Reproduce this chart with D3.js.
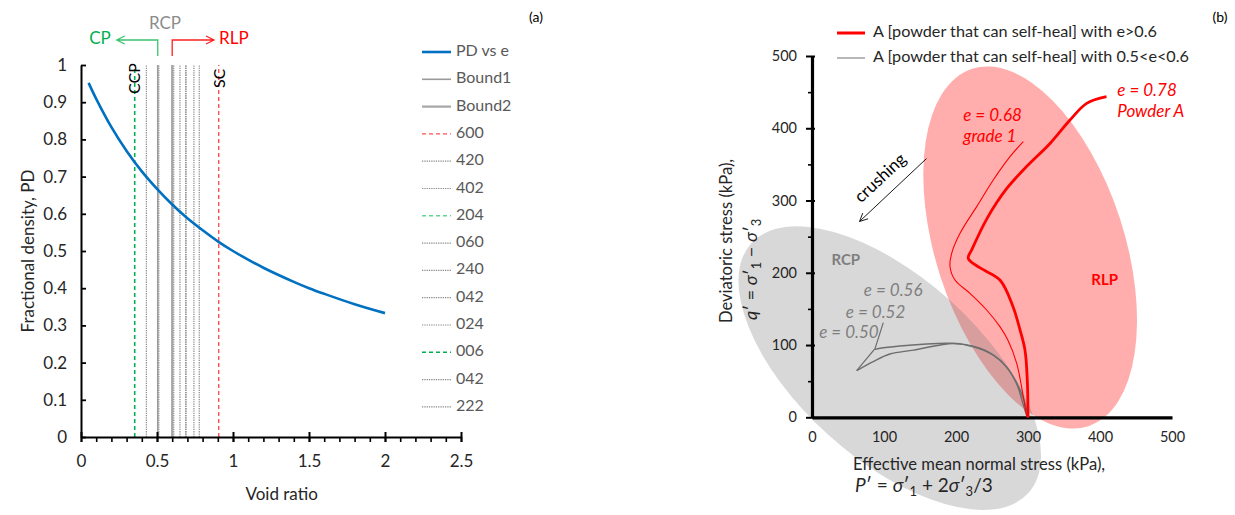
<!DOCTYPE html>
<html><head><meta charset="utf-8">
<script src="https://cdn.jsdelivr.net/npm/d3@7"></script>
<style>
body{margin:0;background:#fff}
svg text{font-family:Lato,"Open Sans",sans-serif}
</style>
</head><body>
<svg id="chart" width="1235" height="515"></svg>
<script>
// ================= Panel (a) data =================
const voidRatio = [0.05,0.1,0.2,0.3,0.4,0.5,0.6,0.7,0.8,0.9,1.0,1.2,1.4,1.5,1.6,1.8,2.0];
const fractionalDensity = [0.952,0.909,0.833,0.769,0.714,0.667,0.625,0.588,0.556,0.526,0.5,0.455,0.417,0.4,0.385,0.357,0.333];
const boundNames = ["Bound1","Bound2"];
const boundValues = [0.505,0.60];
const packingNames = ["600","420","402","204","060","240","042","024","006","042","222"];
const packingValues = [0.906,0.43,0.512,0.353,0.61,0.651,0.69,0.743,0.353,0.69,0.778];
const xTicksA = [0,0.5,1,1.5,2,2.5];
const xTickLabelsA = ["0","0.5","1","1.5","2","2.5"];
const yTicksA = [0,0.1,0.2,0.3,0.4,0.5,0.6,0.7,0.8,0.9,1];
const yTickLabelsA = ["0","0.1","0.2","0.3","0.4","0.5","0.6","0.7","0.8","0.9","1"];

// ================= Panel (b) data =================
const powderA_p = [300,299,295.8,288.9,279.2,261,233,217,222,243,270,298,330.6,358,381.5,409];
const powderA_q = [0,51.6,93,121,153,190,207,220,232,275,316,347,379,411,434.5,443.7];
const grade1_p = [300,298.2,293.5,284.3,272,261,242.6,219.4,198.6,191.7,194,205.6,228.7,251.8,275,293.5];
const grade1_q = [0,3.2,28.5,74.7,107,125.4,148.5,171.6,190,208.4,227,254.6,291.5,328.4,360.7,381.4];
const e050_p = [62,85,108,141,178,196,224,252,270,284,293,298,300];
const e050_q = [64.5,77,87.6,93,100,102,97.7,86,70,47,19,3,0];
const e052_p = [87.5,94.4,122,159,187,205,240,265,283,294,299,300];
const e052_q = [94,95.5,98.7,101.4,102.4,102,93,75,50,25,6,0];
const leader_p = [62,87.5,99];
const leader_q = [64.5,95,131];
const xTicksB = [0,100,200,300,400,500];
const yTicksB = [0,100,200,300,400,500];
const yMinorB = [50,150,250,350,450];

const svg = d3.select("#chart");
const FONT = 'Lato,"Open Sans",sans-serif';

// ================= Panel (a) =================
const xA = d3.scaleLinear().domain([0,2.5]).range([81,461]);
const yA = d3.scaleLinear().domain([0,1]).range([437,65]);
const gA = svg.append("g");

const packStyle = n => n==="600" ? {c:"#FF5050",d:"4,3",w:1.4}
  : n==="204" ? {c:"#66D493",d:"4,3",w:1.4}
  : n==="006" ? {c:"#00B050",d:"4,3",w:1.4}
  : {c:"#8a8a8a",d:"1.3,1",w:1.2};
const boundStyle = i => i===0 ? {c:"#9a9a9a",d:null,w:1.6} : {c:"#a6a6a6",d:null,w:2.2};

gA.selectAll("line.pack").data(packingValues).join("line").attr("class","pack")
  .attr("x1",d=>xA(d)).attr("x2",d=>xA(d)).attr("y1",yA(0)).attr("y2",yA(1))
  .attr("stroke",(d,i)=>packStyle(packingNames[i]).c)
  .attr("stroke-width",(d,i)=>packStyle(packingNames[i]).w)
  .attr("stroke-dasharray",(d,i)=>packStyle(packingNames[i]).d);
gA.selectAll("line.bound").data(boundValues).join("line").attr("class","bound")
  .attr("x1",d=>xA(d)).attr("x2",d=>xA(d)).attr("y1",yA(0)).attr("y2",yA(1))
  .attr("stroke",(d,i)=>boundStyle(i).c).attr("stroke-width",(d,i)=>boundStyle(i).w);

// axes
const minorX = d3.axisBottom(xA).tickValues(d3.range(0,26).map(i=>i/10)).tickSize(5).tickFormat("");
const gmx = gA.append("g").attr("transform",`translate(0,${yA(0)})`).call(minorX);
gmx.select(".domain").remove();
gmx.selectAll("line").attr("stroke","#000").attr("stroke-width",1.6);
const majorX = d3.axisBottom(xA).tickValues(xTicksA).tickSizeInner(5).tickSizeOuter(0).tickPadding(13)
  .tickFormat((d,i)=>xTickLabelsA[i]);
const gx = gA.append("g").attr("transform",`translate(0,${yA(0)})`).call(majorX);
gx.selectAll(".tick line").attr("y1",-5).attr("stroke-width",2);
gx.select(".domain").attr("stroke-width",2);
gx.selectAll("text").attr("font-size",17).attr("font-family",FONT).attr("fill","#262626");

const yAxisA = d3.axisLeft(yA).tickValues(yTicksA).tickSizeInner(-5).tickSizeOuter(0).tickPadding(14)
  .tickFormat((d,i)=>yTickLabelsA[i]);
const gy = gA.append("g").attr("transform",`translate(${xA(0)},0)`).call(yAxisA);
gy.select(".domain").attr("stroke-width",2);
gy.selectAll(".tick line").attr("stroke-width",1.8);
gy.selectAll("text").attr("font-size",17).attr("font-family",FONT).attr("fill","#262626");

// curve
const lineA = d3.line().x(d=>xA(d[0])).y(d=>yA(d[1])).curve(d3.curveCatmullRom);
gA.append("path").datum(voidRatio.map((e,i)=>[e,fractionalDensity[i]]))
  .attr("d",lineA).attr("fill","none").attr("stroke","#0070C0").attr("stroke-width",2.6);

// axis titles
gA.append("text").attr("transform",`translate(30,${yA(0.5)}) rotate(-90)`).attr("text-anchor","middle")
  .attr("dominant-baseline","middle").attr("font-size",17).attr("fill","#262626").text("Fractional density, PD");
gA.append("text").attr("x",xA(1.32)).attr("y",500).attr("text-anchor","middle")
  .attr("font-size",17).attr("fill","#262626").text("Void ratio");

// CCP / SC labels
gA.append("text").attr("transform",`translate(${xA(0.353)+1},${yA(1.005)}) rotate(-90)`).attr("text-anchor","end")
  .attr("dominant-baseline","middle").attr("font-size",16).attr("fill","#000").text("CCP");
gA.append("text").attr("transform",`translate(${xA(0.906)+2},${yA(0.99)}) rotate(-90)`).attr("text-anchor","end")
  .attr("dominant-baseline","middle").attr("font-size",16).attr("fill","#000").text("SC");

// RCP / CP / RLP annotation
const yArrowBase = 56, yArrow = 40;
const cpEnd = xA(0.235), rlpEnd = xA(0.875);
gA.append("path").attr("d",`M${xA(boundValues[0])},${yArrowBase}V${yArrow}H${cpEnd} M${cpEnd+8},${yArrow-4}L${cpEnd},${yArrow}L${cpEnd+8},${yArrow+4}`)
  .attr("fill","none").attr("stroke","#3CC46F").attr("stroke-width",1.3);
gA.append("path").attr("d",`M${xA(boundValues[1])},${yArrowBase}V${yArrow}H${rlpEnd} M${rlpEnd-8},${yArrow-4}L${rlpEnd},${yArrow}L${rlpEnd-8},${yArrow+4}`)
  .attr("fill","none").attr("stroke","#FF2020").attr("stroke-width",1.3);
gA.append("text").attr("x",(xA(boundValues[0])+xA(boundValues[1]))/2).attr("y",25).attr("text-anchor","middle")
  .attr("dominant-baseline","middle").attr("font-size",17).attr("fill","#8c8c8c").text("RCP");
gA.append("text").attr("x",cpEnd-6).attr("y",yArrow).attr("text-anchor","end")
  .attr("dominant-baseline","middle").attr("font-size",17).attr("fill","#00B050").text("CP");
gA.append("text").attr("x",rlpEnd+5).attr("y",yArrow).attr("text-anchor","start")
  .attr("dominant-baseline","middle").attr("font-size",17).attr("fill","#FF0000").text("RLP");

// legend (a)
const legItems = [{n:"PD vs e",c:"#0070C0",d:null,w:2.6}]
  .concat(boundNames.map((n,i)=>({n, ...boundStyle(i)})))
  .concat(packingNames.map(n=>({n, ...packStyle(n)})));
const lg = gA.append("g");
legItems.forEach((it,i)=>{
  const y = 52 + i*27.3;
  lg.append("line").attr("x1",422).attr("x2",451).attr("y1",y).attr("y2",y)
    .attr("stroke",it.c).attr("stroke-width",it.w).attr("stroke-dasharray",it.d);
  lg.append("text").attr("x",456).attr("y",y).attr("dominant-baseline","middle")
    .attr("font-size",16).attr("fill","#595959").text(it.n);
});
svg.append("text").attr("x",536).attr("y",18).attr("text-anchor","middle").attr("dominant-baseline","middle")
  .attr("font-size",14).attr("fill","#000").text("(a)");

// ================= Panel (b) =================
const xB = d3.scaleLinear().domain([0,500]).range([812,1172]);
const yB = d3.scaleLinear().domain([0,500]).range([417.3,56]);
const gB = svg.append("g");
const ux = v => xB(v)-xB(0);

// zones
const zone = (p,q,rp,rq,ang,fill,op)=> gB.append("ellipse")
  .attr("cx",0).attr("cy",0).attr("rx",ux(rp)).attr("ry",ux(rq))
  .attr("transform",`translate(${xB(p)},${yB(q)}) rotate(${ang})`)
  .attr("fill",fill).attr("fill-opacity",op);
zone(303,235,261,131,72,"#FF0000",0.32);
zone(108,68,259,126,42,"#7f7f7f",0.3);

// axes
const xAxisB = d3.axisBottom(xB).tickValues(xTicksB).tickSize(0).tickPadding(14).tickFormat(d3.format("d"));
const gxb = gB.append("g").attr("transform",`translate(0,${yB(0)})`).call(xAxisB);
gxb.select(".domain").attr("stroke-width",3.2);
gxb.selectAll("text").attr("font-size",14.5).attr("font-family",FONT).attr("fill","#262626");
const gyMinor = gB.append("g").attr("transform",`translate(${xB(0)},0)`)
  .call(d3.axisLeft(yB).tickValues(yMinorB).tickSize(4).tickFormat(""));
gyMinor.select(".domain").remove();
gyMinor.selectAll("line").attr("stroke-width",1.6);
const yAxisB = d3.axisLeft(yB).tickValues(yTicksB).tickSizeInner(6).tickSizeOuter(0).tickPadding(9).tickFormat(d3.format("d"));
const gyb = gB.append("g").attr("transform",`translate(${xB(0)},0)`).call(yAxisB);
gyb.select(".domain").attr("stroke-width",3.2);
gyb.selectAll(".tick line").attr("stroke-width",2).attr("x2",-6).attr("x1",3);
gyb.selectAll("text").attr("font-size",14.5).attr("font-family",FONT).attr("fill","#262626");

// curves
const lineB = d3.line().x(d=>xB(d[0])).y(d=>yB(d[1])).curve(d3.curveCatmullRom);
const pts = (p,q)=>p.map((v,i)=>[v,q[i]]);
gB.append("path").datum(pts(e050_p,e050_q)).attr("d",lineB).attr("fill","none").attr("stroke","#6e6e6e").attr("stroke-width",1.4);
gB.append("path").datum(pts(e052_p,e052_q)).attr("d",lineB).attr("fill","none").attr("stroke","#6e6e6e").attr("stroke-width",1.4);
gB.append("path").datum(pts(leader_p,leader_q)).attr("d",d3.line().x(d=>xB(d[0])).y(d=>yB(d[1]))).attr("fill","none").attr("stroke","#6e6e6e").attr("stroke-width",1.2);
gB.append("path").datum(pts(grade1_p,grade1_q)).attr("d",lineB).attr("fill","none").attr("stroke","#FF0000").attr("stroke-width",1.1);
gB.append("path").datum(pts(powderA_p,powderA_q)).attr("d",lineB).attr("fill","none").attr("stroke","#FF0000").attr("stroke-width",2.8);

// crushing arrow
const cr0 = [159,358], cr1 = [66,271];
gB.append("line").attr("x1",xB(cr0[0])).attr("y1",yB(cr0[1])).attr("x2",xB(cr1[0])).attr("y2",yB(cr1[1]))
  .attr("stroke","#000").attr("stroke-width",0.9);
{
  const ex = xB(cr1[0]), ey = yB(cr1[1]);
  const ang = Math.atan2(yB(cr0[1])-ey, xB(cr0[0])-ex);
  const L = 9, s = 0.45;
  gB.append("path").attr("d",`M${ex+L*Math.cos(ang+s)},${ey+L*Math.sin(ang+s)}L${ex},${ey}L${ex+L*Math.cos(ang-s)},${ey+L*Math.sin(ang-s)}`)
    .attr("fill","none").attr("stroke","#000").attr("stroke-width",0.9);
}
gB.append("text").attr("transform",`translate(${xB(96)},${yB(330)}) rotate(-43)`).attr("text-anchor","middle")
  .attr("dominant-baseline","middle").attr("font-size",17).attr("fill","#000").text("crushing");

// annotations
const note = (p,q,t,col,opts={}) => gB.append("text").attr("x",xB(p)).attr("y",yB(q))
  .attr("dominant-baseline","middle").attr("font-size",opts.size||17)
  .attr("font-style",opts.bold?"normal":"italic").attr("font-weight",opts.bold?"bold":"normal")
  .attr("fill",col).text(t);
note(424,450,"e = 0.78","#FF0000");
note(424,421,"Powder A","#FF0000");
note(210,416,"e = 0.68","#FF0000");
note(210,387,"grade 1","#FF0000");
note(388,188,"RLP","#FF0000",{bold:true,size:15});
note(27,216,"RCP","#7f7f7f",{bold:true,size:15});
note(72,174,"e = 0.56","#7f7f7f");
note(47,144,"e = 0.52","#7f7f7f");
note(10,116,"e = 0.50","#7f7f7f");

// axis titles (b)
gB.append("text").attr("x",853).attr("y",466).attr("dominant-baseline","middle").attr("font-size",16.6)
  .attr("fill","#262626").text("Effective mean normal stress (kPa),");
{
  const t = gB.append("text").attr("x",855).attr("y",492).attr("font-size",19)
    .attr("font-family",'"Liberation Serif","DejaVu Serif",serif').attr("fill","#262626");
  t.append("tspan").attr("font-style","italic").text("P");
  t.append("tspan").text("′ = ");
  t.append("tspan").attr("font-style","italic").text("σ");
  t.append("tspan").text("′");
  t.append("tspan").attr("dy",4).attr("font-size",13).text("1");
  t.append("tspan").attr("dy",-4).text(" + 2");
  t.append("tspan").attr("font-style","italic").text("σ");
  t.append("tspan").text("′");
  t.append("tspan").attr("dy",4).attr("font-size",13).text("3");
  t.append("tspan").attr("dy",-4).text("/3");
}
gB.append("text").attr("transform",`translate(728,241) rotate(-90)`).attr("text-anchor","middle")
  .attr("dominant-baseline","middle").attr("font-size",16.6).attr("fill","#262626").text("Deviatoric stress (kPa),");
{
  const t = gB.append("text").attr("transform",`translate(757,320) rotate(-90)`).attr("font-size",18)
    .attr("font-family",'"Liberation Serif","DejaVu Serif",serif').attr("fill","#262626");
  t.append("tspan").attr("font-style","italic").text("q");
  t.append("tspan").text("′ = ");
  t.append("tspan").attr("font-style","italic").text("σ");
  t.append("tspan").text("′");
  t.append("tspan").attr("dy",4).attr("font-size",13).text("1");
  t.append("tspan").attr("dy",-4).text(" − ");
  t.append("tspan").attr("font-style","italic").text("σ");
  t.append("tspan").text("′");
  t.append("tspan").attr("dy",4).attr("font-size",13).text("3");
}

// legend (b)
const legB = [{t:"A [powder that can self-heal] with e>0.6",c:"#FF0000",w:3},
              {t:"A [powder that can self-heal] with 0.5<e<0.6",c:"#a0a0a0",w:1.5}];
legB.forEach((it,i)=>{
  const y = 33 + i*25;
  gB.append("line").attr("x1",837).attr("x2",865).attr("y1",y).attr("y2",y).attr("stroke",it.c).attr("stroke-width",it.w);
  gB.append("text").attr("x",873).attr("y",y).attr("dominant-baseline","middle").attr("font-size",16.2)
    .attr("fill","#262626").text(it.t);
});
svg.append("text").attr("x",1220).attr("y",18).attr("text-anchor","middle").attr("dominant-baseline","middle")
  .attr("font-size",14).attr("fill","#000").text("(b)");
</script>
</body></html>
